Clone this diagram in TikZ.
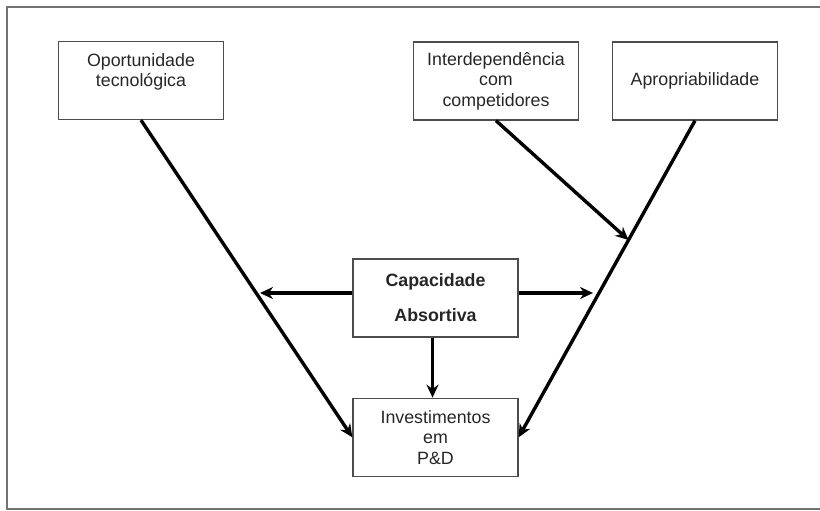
\documentclass[tikz,border=0pt]{standalone}
\usepackage{fontspec}
\setmainfont{Liberation Sans}
\usepackage{tikz}
\usetikzlibrary{arrows.meta,positioning,calc}
\tikzset{
  box/.style={draw=black!70, line width=1.3pt, minimum width=165pt, minimum height=78pt, align=center, inner sep=2pt, font=\fontsize{17.8}{20.5}\selectfont, text=black!85},
  arrow/.style={-{Stealth[length=13pt, width=12pt]}, line width=3.4pt}
}

\begin{document}
\begin{tikzpicture}[x=1pt, y=-1pt, node distance=60pt]
    \useasboundingbox (0,0) rectangle (820,511);
    \draw[black!55, line width=1.5pt] (7,7) rectangle (830,509);

    \node[box] (oport) at (141,80.5) {Oportunidade\\ tecnológica\\ \mbox{}};
    \node[box] (interd) at (496,81) {Interdependência\\ com\\ competidores};
    \node[box] (aprop) at (695,81) {Apropriabilidade};
    \node[box, font=\bfseries\fontsize{17.8}{35}\selectfont] (cap) at (435.5,298) {Capacidade\\ Absortiva};
    \node[box, below=of cap] (invest) {Investimentos\\ em\\ P\&D};

    \draw[arrow] (oport.south) -- (invest.west);
    \draw[arrow] (aprop.south) -- (invest.east);

    % capacidade absortiva acts on both lines
    \coordinate (esq) at ($(oport.south)!0.544!(invest.west)$);
    \coordinate (dir) at ($(aprop.south)!0.544!(invest.east)$);
    \coordinate (meio) at ($(aprop.south)!0.377!(invest.east)$);
    \coordinate (capE) at ([yshift=5pt]cap.west);
    \coordinate (capD) at ([yshift=5pt]cap.east);
    \coordinate (capB) at ([xshift=-3pt]cap.south);
    \draw[arrow, shorten >=4pt] (capE) -- (esq |- capE);
    \draw[arrow, shorten >=6pt] (capD) -- (dir |- capD);
    \draw[arrow] (capB) -- (capB |- invest.north);
    \draw[arrow] (interd.south) -- (meio);
\end{tikzpicture}
\end{document}
